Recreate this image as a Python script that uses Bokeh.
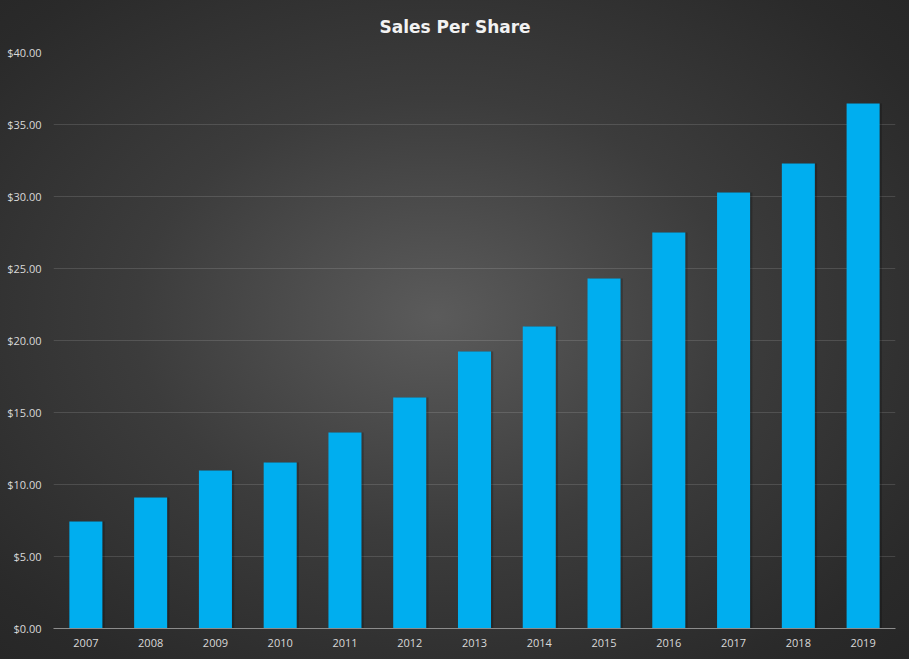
from bokeh.plotting import figure
from bokeh.models import (ColumnDataSource, FactorRange, Range1d, FixedTicker,
                          NumeralTickFormatter, GlobalInlineStyleSheet, Title)
from bokeh.transform import dodge
from bokeh.embed import file_html
from bokeh.resources import INLINE

# ---- data ----
years = ["2007", "2008", "2009", "2010", "2011", "2012", "2013",
         "2014", "2015", "2016", "2017", "2018", "2019"]
sales_per_share = [7.43, 9.10, 10.97, 11.53, 13.61, 16.04, 19.24,
                   20.97, 24.31, 27.50, 30.28, 32.29, 36.46]
y_ticks = [0, 5, 10, 15, 20, 25, 30, 35, 40]
title_text = "Sales Per Share"

src = ColumnDataSource(data=dict(year=years, value=sales_per_share))

W, H = 909, 659
L, R, T, B = 53, 14, 52, 31

x_range = FactorRange(factors=years)
p = figure(x_range=x_range, y_range=Range1d(0, 40),
           width=W, height=H, output_backend="svg",
           toolbar_location=None,
           min_border_left=L, min_border_right=R,
           min_border_top=T, min_border_bottom=B)

# transparent plot so the page gradient shows through
p.background_fill_alpha = 0
p.border_fill_alpha = 0
p.outline_line_color = None

page_css = """
html, body { height: 100%; }
html { background: radial-gradient(ellipse farthest-corner at 48% 48%,
        #5b5b5b 0%, #3c3c3c 45%, #2a2a2a 85%, #262626 100%); }
"""
p.stylesheets = [GlobalInlineStyleSheet(css=page_css)]

# title
p.add_layout(Title(text=title_text, align="left", offset=326,
                   vertical_align="top", standoff=28,
                   text_color="#f2f2f2", text_font="DejaVu Sans",
                   text_font_style="bold", text_font_size="17px"), "above")

# bar shadow
p.vbar(x=dodge("year", 0.035, range=x_range), top="value", width=0.51,
       source=src, fill_color="black", fill_alpha=0.22, line_color=None)
# bars
p.vbar(x="year", top="value", width=0.51, source=src,
       fill_color="#00aeef", line_color=None)

# axes
p.yaxis.ticker = FixedTicker(ticks=y_ticks)
p.yaxis.formatter = NumeralTickFormatter(format="$0.00")
for ax in (p.xaxis, p.yaxis):
    ax.major_tick_line_color = None
    ax.minor_tick_line_color = None
    ax.major_label_text_color = "#d9d9d9"
    ax.major_label_text_font = "Open Sans"
    ax.major_label_text_font_size = "11px"
p.yaxis.axis_line_color = None
p.yaxis.major_label_standoff = 6
p.xaxis.axis_line_color = "#8c8c8c"
p.xaxis.axis_line_width = 1
p.xaxis.major_label_standoff = 4

p.xgrid.grid_line_color = None
p.ygrid.grid_line_color = "#ffffff"
p.ygrid.grid_line_alpha = 0.13
p.ygrid.grid_line_width = 1

open("out.html", "w").write(file_html(p, INLINE))
